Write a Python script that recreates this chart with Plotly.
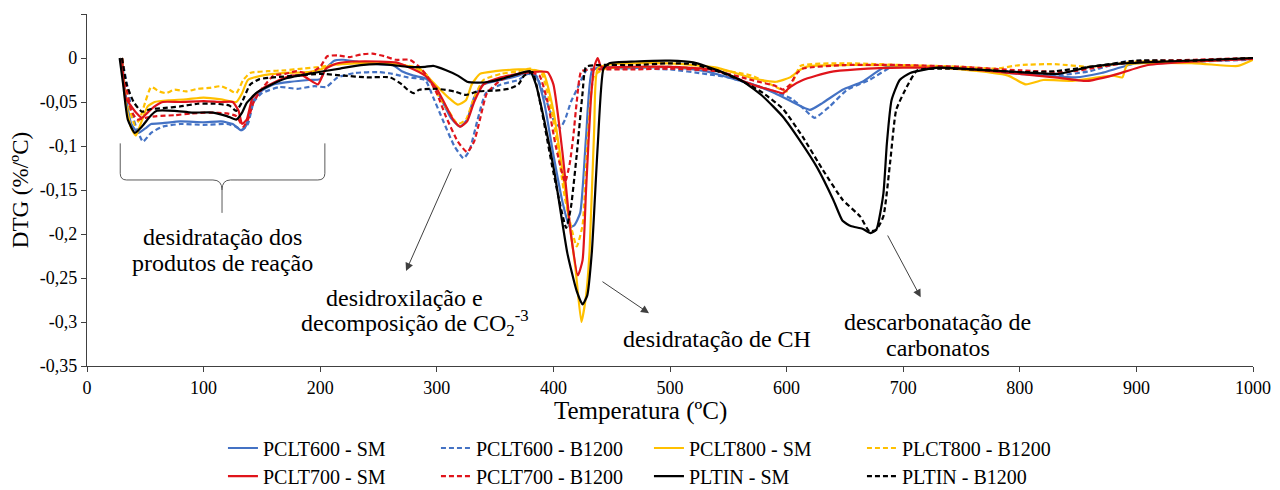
import plotly.graph_objects as go

# ---------------- data (temperature in ºC, DTG in %/ºC) ----------------
pclt600_sm_T = [30, 33, 38, 44, 50, 55, 65, 80, 100, 115, 125, 132, 136, 142, 150, 160, 175, 190, 200, 205, 212, 220, 235, 250, 262, 270, 280, 290, 297, 305, 312, 320, 326, 332, 340, 355, 370, 378, 385, 392, 400, 408, 414, 418, 423, 428, 433, 440, 460, 500, 530, 550, 571, 590, 605, 620, 631, 648, 665, 683, 700, 750, 800, 848, 870, 900, 950, 1000]
pclt600_sm_v = [0, -0.04, -0.075, -0.085, -0.08, -0.075, -0.074, -0.072, -0.073, -0.072, -0.075, -0.082, -0.078, -0.05, -0.037, -0.03, -0.027, -0.025, -0.024, -0.012, -0.003, -0.002, -0.005, -0.007, -0.008, -0.015, -0.02, -0.023, -0.03, -0.05, -0.068, -0.078, -0.07, -0.045, -0.03, -0.025, -0.02, -0.016, -0.02, -0.05, -0.11, -0.165, -0.192, -0.19, -0.176, -0.09, -0.015, -0.01, -0.012, -0.01, -0.015, -0.022, -0.03, -0.04, -0.05, -0.059, -0.051, -0.036, -0.027, -0.011, -0.009, -0.012, -0.018, -0.022, -0.017, -0.006, -0.004, -0.001]

pclt600_b_T = [30, 35, 40, 48, 55, 65, 80, 100, 120, 128, 133, 138, 143, 150, 165, 180, 195, 205, 215, 230, 250, 262, 275, 290, 297, 305, 315, 323, 328, 335, 342, 355, 370, 378, 385, 393, 400, 406, 410, 415, 420, 429, 440, 470, 500, 530, 550, 570, 590, 605, 615, 624, 637, 652, 671, 689, 700, 750, 800, 830, 860, 890, 950, 1000]
pclt600_b_v = [0, -0.035, -0.07, -0.095, -0.085, -0.078, -0.075, -0.076, -0.075, -0.078, -0.082, -0.075, -0.05, -0.04, -0.033, -0.035, -0.032, -0.033, -0.022, -0.017, -0.016, -0.018, -0.022, -0.025, -0.045, -0.07, -0.1, -0.114, -0.105, -0.07, -0.04, -0.03, -0.025, -0.018, -0.02, -0.045, -0.07, -0.079, -0.07, -0.05, -0.036, -0.013, -0.012, -0.012, -0.013, -0.018, -0.022, -0.03, -0.038, -0.047, -0.058, -0.068, -0.055, -0.036, -0.025, -0.011, -0.01, -0.012, -0.016, -0.02, -0.015, -0.004, -0.004, -0.002]

pclt800_sm_T = [30, 33, 38, 42, 46, 52, 58, 70, 85, 100, 115, 128, 133, 138, 150, 170, 190, 200, 210, 230, 250, 270, 285, 297, 310, 318, 325, 330, 337, 350, 370, 378, 391, 400, 410, 419, 424, 428, 431, 435, 438, 450, 500, 540, 571, 591, 603, 612, 620, 650, 700, 750, 790, 805, 820, 845, 880, 888, 892, 950, 987, 1000]
pclt800_sm_v = [0, -0.05, -0.08, -0.088, -0.075, -0.055, -0.05, -0.048, -0.047, -0.045, -0.047, -0.05, -0.04, -0.025, -0.02, -0.017, -0.016, -0.013, -0.008, -0.006, -0.006, -0.008, -0.012, -0.028, -0.045, -0.053, -0.048, -0.03, -0.018, -0.015, -0.013, -0.013, -0.016, -0.06, -0.15, -0.24, -0.3, -0.27, -0.22, -0.08, -0.012, -0.007, -0.006, -0.011, -0.023, -0.027, -0.022, -0.013, -0.009, -0.008, -0.009, -0.013, -0.02, -0.03, -0.025, -0.026, -0.02, -0.022, -0.008, -0.006, -0.009, -0.002]

plct800_b_T = [30, 33, 37, 41, 45, 50, 55, 62, 68, 75, 85, 95, 105, 115, 122, 128, 134, 140, 155, 170, 185, 200, 230, 260, 280, 292, 300, 310, 318, 325, 332, 340, 355, 370, 380, 390, 400, 410, 420, 425, 429, 435, 445, 500, 540, 570, 591, 600, 606, 612, 650, 700, 750, 780, 800, 830, 860, 900, 950, 1000]
plct800_b_v = [0, -0.03, -0.06, -0.076, -0.07, -0.05, -0.033, -0.038, -0.04, -0.036, -0.038, -0.035, -0.034, -0.032, -0.036, -0.04, -0.025, -0.017, -0.015, -0.014, -0.012, -0.01, -0.005, -0.006, -0.01, -0.02, -0.04, -0.06, -0.075, -0.07, -0.045, -0.025, -0.018, -0.015, -0.012, -0.018, -0.07, -0.16, -0.214, -0.19, -0.1, -0.02, -0.012, -0.01, -0.013, -0.02, -0.033, -0.038, -0.025, -0.009, -0.006, -0.008, -0.01, -0.012, -0.008, -0.007, -0.01, -0.004, -0.004, 0.0]

pclt700_sm_T = [30, 33, 37, 42, 47, 52, 58, 65, 80, 100, 115, 125, 130, 133, 137, 142, 150, 160, 175, 185, 198, 205, 215, 230, 250, 265, 275, 290, 300, 308, 315, 320, 326, 332, 340, 355, 370, 380, 395, 400, 408, 415, 421, 425, 428, 432, 435, 438, 441, 460, 500, 540, 570, 591, 597, 603, 614, 637, 660, 700, 750, 800, 830, 858, 879, 910, 950, 1000]
pclt700_sm_v = [0, -0.045, -0.053, -0.062, -0.068, -0.062, -0.055, -0.05, -0.05, -0.049, -0.05, -0.05, -0.06, -0.075, -0.07, -0.045, -0.035, -0.028, -0.02, -0.02, -0.03, -0.012, -0.006, -0.004, -0.004, -0.005, -0.01, -0.02, -0.035, -0.055, -0.072, -0.078, -0.072, -0.05, -0.03, -0.022, -0.018, -0.016, -0.016, -0.03, -0.11, -0.2, -0.247, -0.23, -0.15, -0.05, -0.01, 0.0, -0.01, -0.01, -0.01, -0.014, -0.03, -0.038, -0.04, -0.033, -0.025, -0.016, -0.013, -0.011, -0.012, -0.018, -0.022, -0.026, -0.02, -0.008, -0.004, -0.001]

pclt700_b_T = [30, 34, 38, 43, 50, 60, 75, 90, 105, 120, 128, 134, 138, 143, 150, 160, 170, 180, 190, 200, 206, 215, 225, 235, 245, 255, 265, 277, 285, 292, 300, 308, 318, 326, 332, 337, 343, 355, 370, 380, 388, 395, 402, 410, 414, 417, 420, 424, 435, 470, 500, 540, 570, 591, 597, 603, 609, 614, 650, 700, 750, 800, 840, 870, 900, 950, 1000]
pclt700_b_v = [0, -0.035, -0.06, -0.07, -0.068, -0.066, -0.065, -0.063, -0.062, -0.063, -0.066, -0.078, -0.07, -0.05, -0.035, -0.02, -0.018, -0.015, -0.018, -0.01, 0.002, 0.003, 0.001, 0.004, 0.005, 0.002, -0.002, -0.002, -0.01, -0.021, -0.04, -0.067, -0.095, -0.107, -0.095, -0.07, -0.04, -0.025, -0.018, -0.016, -0.02, -0.05, -0.1, -0.141, -0.12, -0.09, -0.05, -0.015, -0.013, -0.013, -0.012, -0.015, -0.025, -0.032, -0.036, -0.03, -0.017, -0.012, -0.008, -0.008, -0.01, -0.014, -0.016, -0.01, -0.004, -0.002, 0.0]

pltin_sm_T = [28, 31, 35, 41, 47, 55, 60, 75, 90, 108, 120, 128, 133, 137, 145, 154, 171, 194, 217, 235, 250, 262, 275, 290, 297, 308, 318, 326, 335, 345, 355, 365, 375, 380, 385, 392, 401, 412, 420, 425, 429, 433, 438, 443, 448, 470, 500, 520, 543, 563, 580, 597, 611, 626, 640, 648, 655, 665, 672, 677, 683, 686, 690, 697, 706, 730, 760, 800, 833, 860, 890, 925, 1000]
pltin_sm_v = [0, -0.03, -0.07, -0.085, -0.078, -0.065, -0.06, -0.06, -0.062, -0.062, -0.066, -0.07, -0.062, -0.051, -0.04, -0.033, -0.023, -0.017, -0.012, -0.008, -0.007, -0.008, -0.01, -0.01, -0.009, -0.014, -0.02, -0.027, -0.028, -0.027, -0.024, -0.02, -0.016, -0.015, -0.03, -0.07, -0.131, -0.222, -0.265, -0.28, -0.27, -0.22, -0.1, -0.012, -0.006, -0.004, -0.003, -0.005, -0.015, -0.027, -0.044, -0.067, -0.093, -0.124, -0.161, -0.185, -0.191, -0.194, -0.199, -0.195, -0.154, -0.097, -0.048, -0.025, -0.017, -0.011, -0.013, -0.016, -0.018, -0.01, -0.006, -0.004, 0.0]

pltin_b_T = [30, 34, 40, 47, 55, 65, 80, 95, 110, 122, 128, 133, 140, 148, 160, 180, 200, 220, 240, 260, 270, 275, 280, 285, 300, 315, 325, 335, 350, 362, 370, 375, 382, 390, 400, 411, 415, 420, 425, 428, 440, 470, 500, 520, 543, 563, 580, 597, 614, 631, 648, 663, 671, 677, 683, 689, 694, 703, 712, 730, 760, 800, 830, 860, 900, 950, 1000]
pltin_b_v = [0, -0.03, -0.05, -0.061, -0.058, -0.057, -0.055, -0.052, -0.052, -0.054, -0.06, -0.05, -0.03, -0.024, -0.022, -0.02, -0.018, -0.02, -0.022, -0.022, -0.03, -0.036, -0.04, -0.036, -0.035, -0.038, -0.042, -0.038, -0.037, -0.035, -0.03, -0.02, -0.016, -0.06, -0.13, -0.193, -0.17, -0.11, -0.04, -0.01, -0.008, -0.008, -0.006, -0.007, -0.016, -0.027, -0.04, -0.058, -0.09, -0.127, -0.161, -0.18, -0.197, -0.195, -0.18, -0.116, -0.059, -0.033, -0.014, -0.012, -0.013, -0.016, -0.015, -0.01, -0.003, -0.003, 0.0]

series_names = ["PCLT600 - SM", "PCLT600 - B1200", "PCLT800 - SM", "PLCT800 - B1200",
                "PCLT700 - SM", "PCLT700 - B1200", "PLTIN - SM", "PLTIN - B1200"]

y_tickvals = [0.05, 0, -0.05, -0.1, -0.15, -0.2, -0.25, -0.3, -0.35]
y_ticktext = ["0,05", "0", "-0,05", "-0,1", "-0,15", "-0,2", "-0,25", "-0,3", "-0,35"]
x_tickvals = [0, 100, 200, 300, 400, 500, 600, 700, 800, 900, 1000]

# ---------------- styling ----------------
BLUE = "#4472C4"
YELLOW = "#FFC000"
RED = "#E0141B"
BLACK = "#000000"
DASH = "5px,3px"
FONT = "Liberation Serif"

series = [
    (pclt600_sm_T, pclt600_sm_v, BLUE, "solid", "legend"),
    (pclt600_b_T, pclt600_b_v, BLUE, DASH, "legend"),
    (pclt800_sm_T, pclt800_sm_v, YELLOW, "solid", "legend"),
    (plct800_b_T, plct800_b_v, YELLOW, DASH, "legend"),
    (pclt700_sm_T, pclt700_sm_v, RED, "solid", "legend2"),
    (pclt700_b_T, pclt700_b_v, RED, DASH, "legend2"),
    (pltin_sm_T, pltin_sm_v, BLACK, "solid", "legend2"),
    (pltin_b_T, pltin_b_v, BLACK, DASH, "legend2"),
]

fig = go.Figure()
for name, (xs, ys, col, dash, lg) in zip(series_names, series):
    fig.add_trace(go.Scatter(
        x=xs, y=ys, mode="lines", name=name, legend=lg,
        line=dict(color=col, width=2.2, dash=dash, shape="spline", smoothing=0.5),
    ))

annotations = [
    dict(x=115.8, y=-0.2034, text="desidratação dos", showarrow=False),
    dict(x=115.8, y=-0.233, text="produtos de reação", showarrow=False),
    dict(x=272, y=-0.2727, text="desidroxilação e", showarrow=False),
    dict(x=281, y=-0.301, text="decomposição de CO<sub>2</sub><sup>-3</sup>", showarrow=False),
    dict(x=540.3, y=-0.3193, text="desidratação de CH", showarrow=False),
    dict(x=729.8, y=-0.300, text="descarbonatação de", showarrow=False),
    dict(x=729.8, y=-0.3295, text="carbonatos", showarrow=False),
    dict(x=273.6, y=-0.242, ax=313, ay=-0.124, axref="x", ayref="y", text="", showarrow=True,
         arrowhead=2, arrowsize=1.6, arrowwidth=1, arrowcolor="#404040"),
    dict(x=482, y=-0.29, ax=440.8, ay=-0.253, axref="x", ayref="y", text="", showarrow=True,
         arrowhead=2, arrowsize=1.6, arrowwidth=1, arrowcolor="#404040"),
    dict(x=715, y=-0.272, ax=686, ay=-0.2, axref="x", ayref="y", text="", showarrow=True,
         arrowhead=2, arrowsize=1.6, arrowwidth=1, arrowcolor="#404040"),
]
for a in annotations:
    a.setdefault("xref", "x")
    a.setdefault("yref", "y")
    a["font"] = dict(family=FONT, size=24, color="#000000")

# x-axis title placed as an annotation (offset to the left, as in the source)
annotations.append(dict(x=475, xref="x", y=-0.128, yref="paper", yanchor="middle",
                        text="Temperatura (ºC)", showarrow=False,
                        font=dict(family=FONT, size=25, color="#000000")))

brace = ("M 28.5,-0.097 L 28.5,-0.131 Q 28.5,-0.1386 34,-0.1386 L 108,-0.1386 "
         "Q 115.8,-0.1386 115.8,-0.150 L 115.8,-0.176 M 115.8,-0.150 "
         "Q 115.8,-0.1386 123,-0.1386 L 198,-0.1386 Q 204,-0.1386 204,-0.131 L 204,-0.097")

legend_common = dict(orientation="h", xanchor="left", yanchor="middle",
                     entrywidth=168, font=dict(family=FONT, size=20, color="#000000"),
                     tracegroupgap=0, itemwidth=30, bgcolor="rgba(0,0,0,0)")

fig.update_layout(
    width=1272, height=482,
    margin=dict(l=79, r=27, t=6, b=124, autoexpand=False),
    paper_bgcolor="white", plot_bgcolor="white",
    font=dict(family=FONT, size=18, color="#000000"),
    showlegend=True,
    legend=dict(x=0.1166, y=-0.233, **legend_common),
    legend2=dict(x=0.1166, y=-0.313, **legend_common),
    annotations=annotations,
    shapes=[dict(type="path", path=brace, xref="x", yref="y",
                 line=dict(color="#595959", width=1))],
    xaxis=dict(range=[0, 1000], tickvals=x_tickvals, showgrid=False, zeroline=False,
               showline=True, linecolor="#404040", linewidth=1.3, ticks="outside",
               ticklen=5, tickcolor="#404040", automargin=False,
               tickfont=dict(family=FONT, size=18, color="#000000")),
    yaxis=dict(range=[-0.35, 0.05], tickvals=y_tickvals, ticktext=y_ticktext,
               showgrid=False, zeroline=False, showline=True, linecolor="#404040",
               linewidth=1.3, ticks="outside", ticklen=5, tickcolor="#404040", automargin=False,
               tickfont=dict(family=FONT, size=18, color="#000000"),
               title=dict(text="DTG (%/ºC)", font=dict(family=FONT, size=23, color="#000000"), standoff=6)),
)

fig.write_html("out.html")
